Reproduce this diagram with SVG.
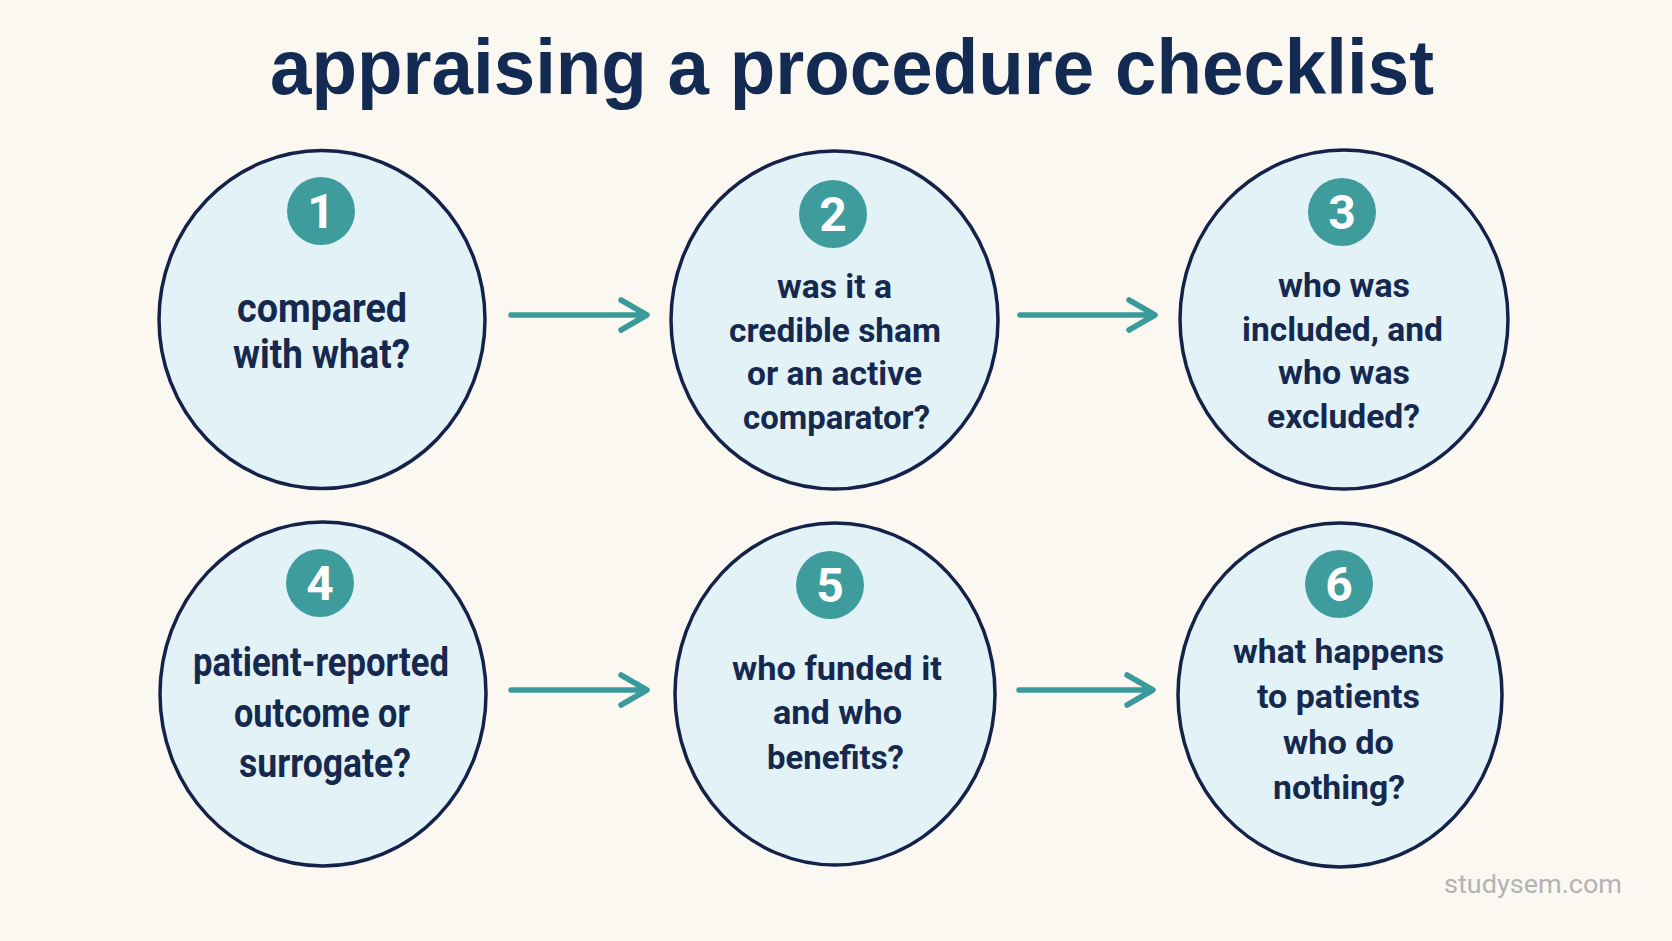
<svg xmlns="http://www.w3.org/2000/svg" width="1672" height="941" viewBox="0 0 1672 941">
  <defs>
    <style>
      .bg { fill: #fbf8f1; }
      .node { fill: #e3f2f7; stroke: #14224a; stroke-width: 3.5; }
      .badge { fill: #3e9c9c; }
      .num { font-family: Roboto, "Liberation Sans", sans-serif; font-weight: 700; font-size: 48px; fill: #ffffff; text-anchor: middle; }
      .big { font-family: Roboto, "Liberation Sans", sans-serif; font-weight: 700; font-size: 41px; fill: #15284d; text-anchor: middle; }
      .txt { font-family: Roboto, "Liberation Sans", sans-serif; font-weight: 700; font-size: 34px; fill: #15284d; text-anchor: middle; }
      .title { font-family: "Liberation Sans", Arial, sans-serif; font-weight: 700; font-size: 77px; fill: #132a52; text-anchor: middle; }
      .wm { font-family: Roboto, "Liberation Sans", sans-serif; font-size: 26px; fill: #b3b3b3; text-anchor: middle; }
      .conn { fill: none; stroke: #3a9a9a; stroke-width: 5.5; stroke-linecap: round; stroke-linejoin: round; }
    </style>
  </defs>
  <rect class="bg" x="0" y="0" width="1672" height="941"/>
  <text class="title" x="852" y="94" textLength="1164" lengthAdjust="spacingAndGlyphs">appraising a procedure checklist</text>

  <g id="connectors">
    <path class="conn" d="M511 315 H646 M621 300 L647 315 L621 330"/>
    <path class="conn" d="M1020 315 H1154 M1129 300 L1155 315 L1129 330"/>
    <path class="conn" d="M511 690 H646 M621 675 L647 690 L621 705"/>
    <path class="conn" d="M1019 690 H1152 M1127 675 L1153 690 L1127 705"/>
  </g>

  <g id="node1">
    <ellipse class="node" cx="322" cy="319.5" rx="163" ry="169"/>
    <circle class="badge" cx="321" cy="211" r="34"/>
    <text class="num" x="321" y="228">1</text>
    <text class="big" x="322" y="322" textLength="170" lengthAdjust="spacingAndGlyphs">compared</text>
    <text class="big" x="321.5" y="368" textLength="177" lengthAdjust="spacingAndGlyphs">with what?</text>
  </g>

  <g id="node2">
    <ellipse class="node" cx="834.5" cy="320" rx="163.5" ry="169"/>
    <circle class="badge" cx="833" cy="214" r="34"/>
    <text class="num" x="833" y="231">2</text>
    <text class="txt" x="834.5" y="298" textLength="115" lengthAdjust="spacingAndGlyphs">was it a</text>
    <text class="txt" x="835" y="342" textLength="212" lengthAdjust="spacingAndGlyphs">credible sham</text>
    <text class="txt" x="834.5" y="385" textLength="175" lengthAdjust="spacingAndGlyphs">or an active</text>
    <text class="txt" x="836.5" y="429" textLength="187" lengthAdjust="spacingAndGlyphs">comparator?</text>
  </g>

  <g id="node3">
    <ellipse class="node" cx="1344" cy="319.5" rx="164" ry="169.5"/>
    <circle class="badge" cx="1342" cy="212" r="34"/>
    <text class="num" x="1342" y="229">3</text>
    <text class="txt" x="1344" y="297" textLength="132" lengthAdjust="spacingAndGlyphs">who was</text>
    <text class="txt" x="1342.5" y="341" textLength="201" lengthAdjust="spacingAndGlyphs">included, and</text>
    <text class="txt" x="1344" y="384" textLength="132" lengthAdjust="spacingAndGlyphs">who was</text>
    <text class="txt" x="1343.5" y="428" textLength="153" lengthAdjust="spacingAndGlyphs">excluded?</text>
  </g>

  <g id="node4">
    <ellipse class="node" cx="323" cy="694" rx="163" ry="172"/>
    <circle class="badge" cx="320" cy="583" r="34"/>
    <text class="num" x="320" y="600">4</text>
    <text class="big" x="321" y="676" textLength="256" lengthAdjust="spacingAndGlyphs">patient-reported</text>
    <text class="big" x="322" y="727" textLength="176" lengthAdjust="spacingAndGlyphs">outcome or</text>
    <text class="big" x="325" y="777" textLength="172" lengthAdjust="spacingAndGlyphs">surrogate?</text>
  </g>

  <g id="node5">
    <ellipse class="node" cx="835" cy="694" rx="160" ry="171"/>
    <circle class="badge" cx="830" cy="585" r="34"/>
    <text class="num" x="830" y="602">5</text>
    <text class="txt" x="837" y="680" textLength="210" lengthAdjust="spacingAndGlyphs">who funded it</text>
    <text class="txt" x="837.5" y="724" textLength="129" lengthAdjust="spacingAndGlyphs">and who</text>
    <text class="txt" x="835.5" y="769" textLength="137" lengthAdjust="spacingAndGlyphs">benefits?</text>
  </g>

  <g id="node6">
    <ellipse class="node" cx="1340" cy="695" rx="162" ry="172"/>
    <circle class="badge" cx="1339" cy="584" r="34"/>
    <text class="num" x="1339" y="601">6</text>
    <text class="txt" x="1338.5" y="663" textLength="211" lengthAdjust="spacingAndGlyphs">what happens</text>
    <text class="txt" x="1338.5" y="708" textLength="163" lengthAdjust="spacingAndGlyphs">to patients</text>
    <text class="txt" x="1338.5" y="754" textLength="111" lengthAdjust="spacingAndGlyphs">who do</text>
    <text class="txt" x="1339" y="799" textLength="132" lengthAdjust="spacingAndGlyphs">nothing?</text>
  </g>

  <text class="wm" x="1533" y="893" textLength="178" lengthAdjust="spacingAndGlyphs">studysem.com</text>
</svg>
